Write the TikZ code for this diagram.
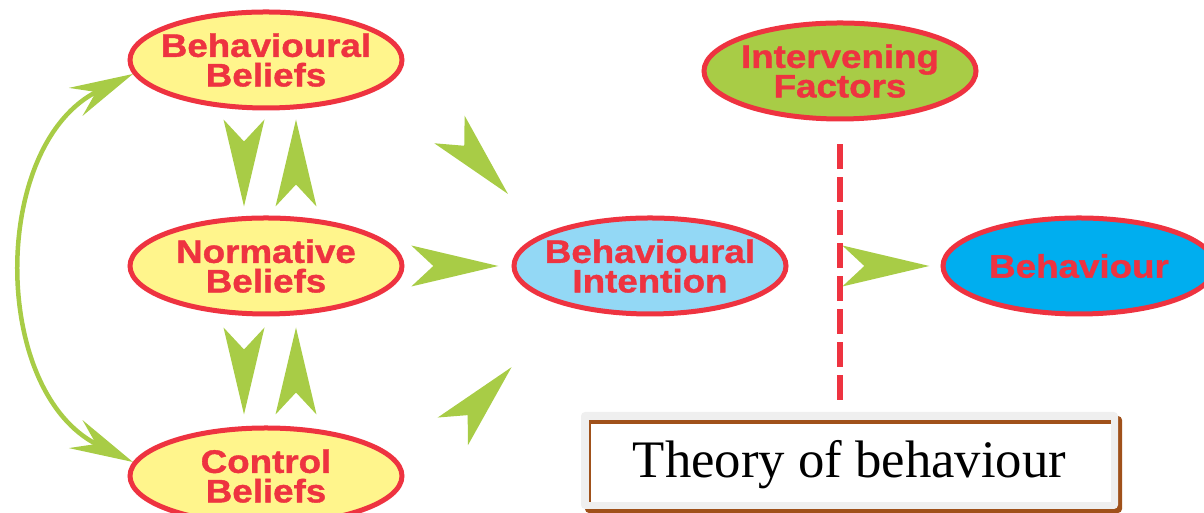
\documentclass[tikz,border=0pt]{standalone}
\usepackage{fontspec}
\setmainfont{Liberation Serif}
\newfontfamily\blobfont[FakeStretch=1.13,FakeBold=1.2]{Liberation Sans}
\usetikzlibrary{arrows.meta,decorations.markings,shapes.geometric}

\definecolor{tprred}{HTML}{EE3340}
\definecolor{tprgreen}{HTML}{A8CC46}
\definecolor{tpryellow}{HTML}{FFF58C}
\definecolor{tprsky}{HTML}{93D8F5}
\definecolor{tprblue}{HTML}{00AEEF}
\definecolor{tprbrown}{HTML}{A0511A}
\definecolor{tprgrey}{HTML}{EFEFEF}

\tikzset{
  blob/.style={ellipse, draw=tprred, line width=0.1cm, minimum width=5.44cm,
    minimum height=1.92cm, inner xsep=-4mm, inner ysep=0pt, align=center,
    text=tprred, font=\blobfont\bfseries\fontsize{18.5}{16.8}\selectfont},
  chev/.style={postaction=decorate, decoration={markings, mark=at position #1 with
    {\fill[tprgreen] (0.87,0) -- (-0.87,0.41) -- (-0.43,0) -- (-0.87,-0.41) -- cycle;}}},
  chev/.default=0.5,
  loopline/.style={draw=tprgreen, line width=0.09cm,
    {Stealth[length=1.27cm,width=0.62cm,inset=0.45cm]}-{Stealth[length=1.27cm,width=0.62cm,inset=0.45cm]}},
  cutline/.style={draw=tprred, line width=0.12cm, dash pattern=on 0.5cm off 0.16cm}
}

\begin{document}
\begin{tikzpicture}
    \useasboundingbox (0,0) rectangle (24.08,10.26);
    \clip (0,0) rectangle (24.08,10.26);

    % beliefs
    \node[blob, fill=tpryellow] (bb) at (5.32,9.06) {Behavioural\\Beliefs};
    \node[blob, fill=tpryellow] (nb) at (5.32,4.94) {Normative\\Beliefs};
    \node[blob, fill=tpryellow] (cb) at (5.32,0.74) {Control\\Beliefs};

    \node[blob, fill=tprsky] (bi) at (13.0,4.94) {Behavioural\\Intention};
    \node[blob, fill=tprgreen] (if) at (16.8,8.84) {Intervening\\Factors};
    \node[blob, fill=tprblue] (beh) at (21.58,4.94) {Behaviour};

    % arrows between beliefs
    \path[chev] ([xshift=-4.4mm]bb.south) -- ([xshift=-4.4mm]nb.north);
    \path[chev] ([xshift=6mm]nb.north) -- ([xshift=6mm]bb.south);
    \path[chev] ([xshift=-4.4mm]nb.south) -- ([xshift=-4.4mm]cb.north);
    \path[chev] ([xshift=6mm]cb.north) -- ([xshift=6mm]nb.south);
    \draw[loopline] (bb.186) to[out=206, in=154, looseness=1.05] (cb.174);

    % arrows to intention and behaviour
    \path[chev=0.55] (bb.-6) -- (bi.163);
    \path[chev=0.47] (nb.east) -- (bi.west);
    \path[chev] (cb.-7) -- (bi.-154);
    \path[chev=0.64] (bi.east) -- (beh.west);

    \coordinate (cutend) at (16.8,2.26);
    \draw[cutline] ([yshift=-4.6mm]if.south) -- (cutend);

    % title box
    \fill[tprbrown, rounded corners=0.08cm] (11.7,0) rectangle (22.44,1.94);
    \fill[tprgrey, rounded corners=0.08cm] (11.62,0.08) rectangle (22.36,2.02);
    \fill[white] (11.78,0.22) rectangle (22.22,1.86);
    \draw[tprbrown, line width=0.08cm] (11.78,1.82) -- (22.22,1.82);
    \draw[tprbrown, line width=0.04cm] (11.8,0.22) -- (11.8,1.86);
    \node[anchor=base, font=\fontsize{30}{36}\selectfont] (title) at (16.99,0.70) {Theory of behaviour};
\end{tikzpicture}
\end{document}
